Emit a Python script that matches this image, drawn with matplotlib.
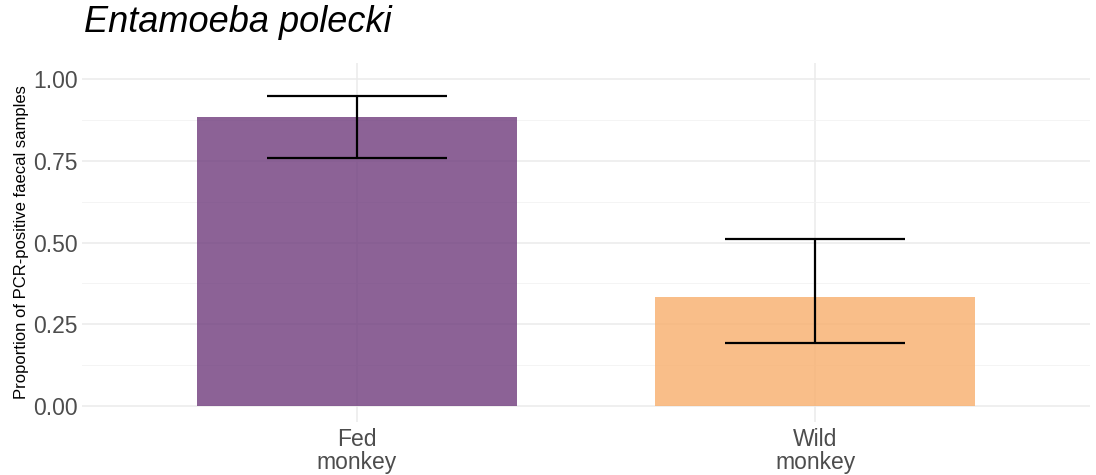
import matplotlib
matplotlib.use("Agg")
import matplotlib.pyplot as plt
import numpy as np

# data
groups = ["Fed\nmonkey", "Wild\nmonkey"]
proportion = [0.884, 0.333]
ci_low = [0.758, 0.193]
ci_high = [0.948, 0.511]
colors = ["#6F3B7C", "#F8AE6C"]

plt.rcParams['font.family'] = ['Liberation Sans', 'DejaVu Sans']

fig = plt.figure(figsize=(10.96, 4.75), dpi=100)
ax = fig.add_axes([82 / 1096, 53 / 475, 1008 / 1096, 359 / 475])

x = np.arange(1, len(groups) + 1)

# grid (ggplot minimal look)
ax.set_axisbelow(True)
ax.grid(True, which="major", color="#EBEBEB", linewidth=1.1)
ax.set_yticks(np.arange(0.125, 1.0, 0.25), minor=True)
ax.grid(True, which="minor", axis="y", color="#F2F2F2", linewidth=0.6)

ax.bar(x, proportion, width=0.7, color=colors, alpha=0.8, zorder=2)
yerr = [np.array(proportion) - np.array(ci_low), np.array(ci_high) - np.array(proportion)]
ax.errorbar(x, proportion, yerr=yerr, fmt="none", ecolor="black", elinewidth=1.6,
            capsize=65, capthick=1.6, zorder=3)

ax.set_xlim(0.4, 2.6)
ax.set_ylim(-0.05, 1.05)
ax.set_xticks(x)
ax.set_xticklabels(groups, fontsize=16.5, color="#4D4D4D", linespacing=1.0)
ax.set_yticks([0, 0.25, 0.5, 0.75, 1.0])
ax.set_yticklabels(["0.00", "0.25", "0.50", "0.75", "1.00"], fontsize=16.5, color="#4D4D4D")
ax.tick_params(which="both", length=0, pad=4)
ax.tick_params(axis="y", pad=3)
for s in ax.spines.values():
    s.set_visible(False)

ax.set_ylabel("Proportion of PCR-positive faecal samples", fontsize=12, labelpad=3)
fig.text(84 / 1096, 1 - 23 / 475, "Entamoeba polecki", fontsize=26, style="italic",
         ha="left", va="center")

fig.savefig("out.png", dpi=100)
